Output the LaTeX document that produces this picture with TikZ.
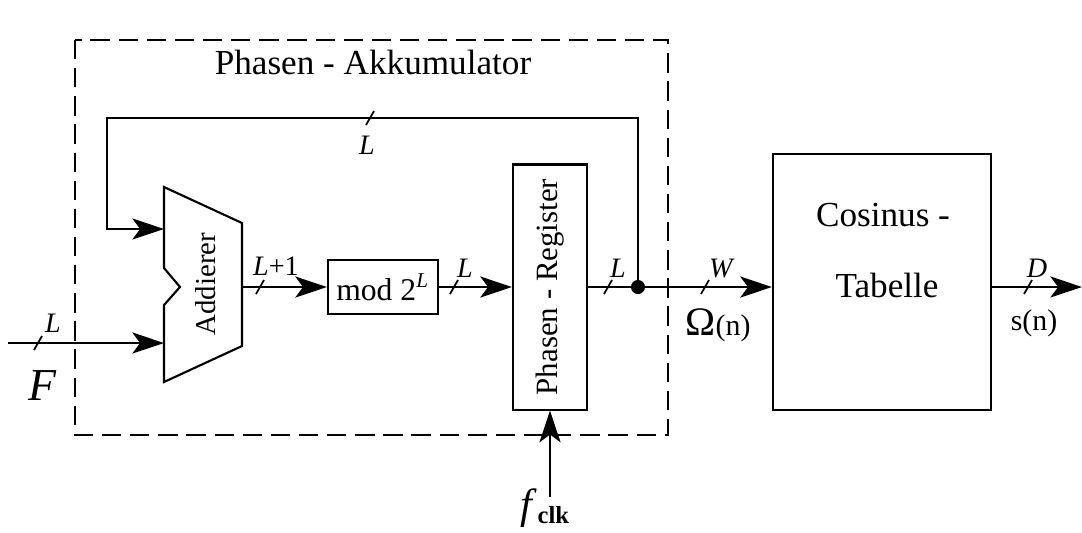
\documentclass[tikz,border=0pt]{standalone}
\usepackage{fontspec}
\setmainfont{Liberation Serif}
\usetikzlibrary{arrows.meta,positioning}

\tikzset{
  blk/.style={draw, line width=0.6pt, inner sep=0pt},
  wire/.style={line width=0.6pt},
  sig/.style={line width=0.6pt, -{Stealth[length=9pt,width=6pt,inset=2.2pt]}},
  busmark/.style={line width=0.5pt},
  buslabel/.style={font=\fontsize{8}{9}\selectfont, inner sep=1pt},
}
\newcommand{\bus}[2]{\draw[busmark] (#1-4,#2+7) -- (#1+4,#2-7);}

\begin{document}
\begin{tikzpicture}[x=0.01cm, y=-0.01cm, font=\fontsize{10}{12}\selectfont]
    \useasboundingbox (0,0) rectangle (1082,532);

    % Rahmen
    \draw[wire, dash pattern=on 5.5pt off 2.5pt] (75,40) rectangle (668,435);
    \node (title) at (373,62) {Phasen - Akkumulator};

    % Addierer
    \draw[wire] (164,187) -- (242,223) -- (242,346) -- (164,382)
        -- (164,305) -- (180,287) -- (164,268) -- cycle;
    \node[rotate=90, font=\fontsize{8.2}{10}\selectfont] (add) at (206,284) {Addierer};
    \coordinate (addA) at (164,229);
    \coordinate (addB) at (164,343);
    \coordinate (addO) at (242,287);

    % Bloecke
    \node[blk, minimum width=1.1cm, minimum height=0.54cm, font=\fontsize{9}{10}\selectfont] (mod) at (383,287) {mod 2\textsuperscript{\textit{L}}};
    \node[blk, minimum width=0.74cm, minimum height=2.45cm] (reg) at (550,287) {};
    \node[rotate=90, font=\fontsize{8.8}{10}\selectfont] (regtxt) at (reg.center) {Phasen - Register};
    \node[blk, minimum width=2.18cm, minimum height=2.55cm] (cos) at (882,282) {};
    \node (costxt1) at (883,215) {Cosinus -};
    \node (costxt2) at (887,285) {Tabelle};

    % Verbindungen
    \coordinate (Fin) at (8,343);
    \coordinate (tap) at (638,287);
    \coordinate (fbA) at (638,118);
    \coordinate (fbB) at (107,118);
    \coordinate (sout) at (1082,287);
    \coordinate (clk) at (550,497);

    \draw[sig] (Fin) -- (addB);
    \draw[sig] (addO) -- (mod.west);
    \draw[sig] (mod.east) -- (mod.east -| reg.west);
    \draw[wire] (reg.east |- tap) -- (tap);
    \draw[sig] (tap) -- (fbA) -- (fbB) |- (addA);
    \draw[sig] (tap) -- (tap -| cos.west);
    \draw[sig] (cos.east |- sout) -- (sout);
    \draw[sig] (clk) -- (reg.south);
    \fill (tap) circle (2pt);

    % Busbreiten
    \bus{38}{343}   \node[buslabel] (lF) at (53,323) {\textit{L}};
    \bus{370}{118}  \node[buslabel] (lfb) at (367,145) {\textit{L}};
    \bus{260}{287}  \node[buslabel] (ladd) at (276,266) {\textit{L}+1};
    \bus{454}{287}  \node[buslabel] (lmod) at (465,268) {\textit{L}};
    \bus{608}{287}  \node[buslabel] (lreg) at (618,268) {\textit{L}};
    \bus{705}{287}  \node[buslabel] (lw) at (722,268) {\textit{W}};
    \bus{1028}{287} \node[buslabel] (ld) at (1037,268) {\textit{D}};

    % Signale
    \node[font=\fontsize{13}{15}\selectfont] (F) at (43,386) {\textit{F}};
    \node (omega) at (718,325) {{\fontsize{11.5}{13}\selectfont Ω}{\fontsize{8.5}{10}\selectfont(n)}};
    \node[font=\fontsize{8.5}{10}\selectfont] (sn) at (1034,323) {s(n)};
    \node (fclk) at (545,508) {{\fontsize{12}{14}\selectfont\textit{f}}{\fontsize{7}{8}\selectfont\raisebox{-0.45ex}{\textbf{clk}}}};

\end{tikzpicture}
\end{document}
